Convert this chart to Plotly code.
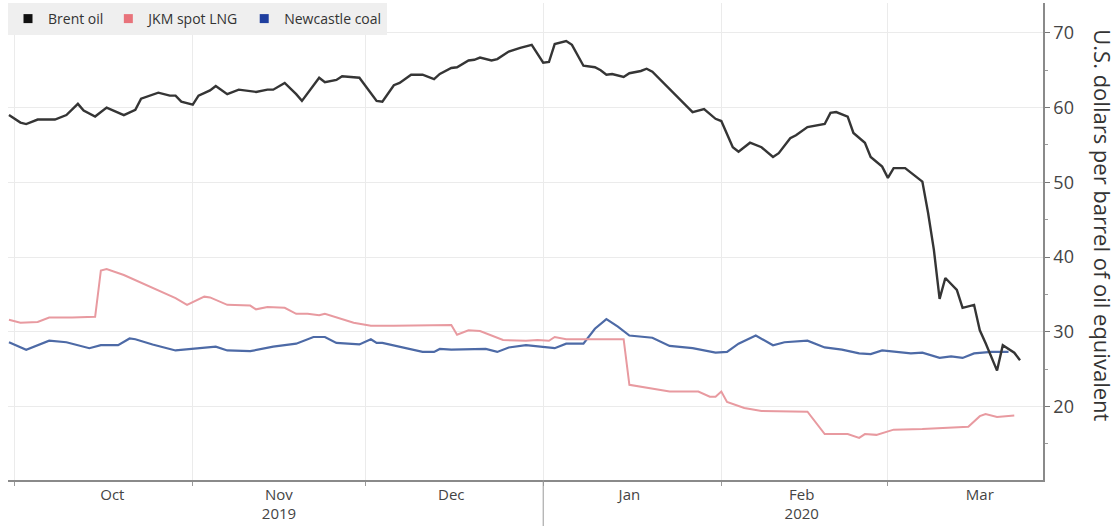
import plotly.graph_objects as go

brent_dates = ["2019-09-30","2019-10-02","2019-10-03","2019-10-05","2019-10-08","2019-10-10","2019-10-12","2019-10-13",
    "2019-10-15","2019-10-17","2019-10-20","2019-10-22","2019-10-23","2019-10-26","2019-10-28","2019-10-29","2019-10-30",
    "2019-11-01","2019-11-02","2019-11-04","2019-11-05","2019-11-07","2019-11-09","2019-11-11","2019-11-12","2019-11-14",
    "2019-11-15","2019-11-17","2019-11-19","2019-11-20","2019-11-23","2019-11-24","2019-11-26","2019-11-27","2019-11-28",
    "2019-11-30","2019-12-03","2019-12-04","2019-12-06","2019-12-07","2019-12-09","2019-12-11","2019-12-13","2019-12-14",
    "2019-12-16","2019-12-17","2019-12-19","2019-12-20","2019-12-21","2019-12-23","2019-12-24","2019-12-26","2019-12-28",
    "2019-12-30","2020-01-01","2020-01-02","2020-01-03","2020-01-05","2020-01-06","2020-01-08","2020-01-10","2020-01-11",
    "2020-01-12","2020-01-13","2020-01-15","2020-01-16","2020-01-18","2020-01-19","2020-01-20","2020-01-27","2020-01-29",
    "2020-01-31","2020-02-01","2020-02-03","2020-02-04","2020-02-06","2020-02-08","2020-02-10","2020-02-11","2020-02-13",
    "2020-02-14","2020-02-16","2020-02-19","2020-02-20","2020-02-21","2020-02-23","2020-02-24","2020-02-26","2020-02-27",
    "2020-02-29","2020-03-01","2020-03-02","2020-03-04","2020-03-05","2020-03-07","2020-03-08","2020-03-09","2020-03-10",
    "2020-03-11","2020-03-13","2020-03-14","2020-03-16","2020-03-17","2020-03-18","2020-03-20","2020-03-21","2020-03-23",
    "2020-03-24"]
brent_values = [59.0,58.0,57.8,58.4,58.4,59.0,60.5,59.6,
    58.8,60.0,59.0,59.7,61.2,62.0,61.6,61.6,60.8,
    60.4,61.6,62.3,62.9,61.8,62.4,62.2,62.1,62.4,
    62.4,63.3,61.8,60.9,64.0,63.4,63.7,64.2,64.1,
    64.0,60.9,60.8,63.0,63.3,64.4,64.4,63.8,64.5,
    65.3,65.4,66.3,66.4,66.7,66.3,66.5,67.5,68.0,
    68.4,66.0,66.1,68.5,68.9,68.4,65.6,65.4,65.0,
    64.4,64.5,64.1,64.6,64.9,65.2,64.8,59.4,59.8,
    58.5,58.2,54.7,54.1,55.3,54.7,53.4,53.9,55.9,
    56.3,57.4,57.8,59.3,59.4,58.8,56.6,55.3,53.4,
    52.1,50.6,51.9,51.9,51.3,50.1,45.9,41.0,34.4,
    37.2,35.6,33.2,33.6,30.2,28.5,24.8,28.2,27.2,
    26.2]

jkm_dates = ["2019-09-30","2019-10-02","2019-10-05","2019-10-07","2019-10-11","2019-10-15","2019-10-16","2019-10-17",
    "2019-10-20","2019-10-24","2019-10-28","2019-10-29","2019-10-31","2019-11-03","2019-11-04","2019-11-07","2019-11-11",
    "2019-11-12","2019-11-14","2019-11-17","2019-11-19","2019-11-21","2019-11-23","2019-11-24","2019-11-29","2019-12-02",
    "2019-12-06","2019-12-10","2019-12-16","2019-12-17","2019-12-19","2019-12-21","2019-12-25","2019-12-29","2019-12-31",
    "2020-01-02","2020-01-03","2020-01-05","2020-01-09","2020-01-15","2020-01-16","2020-01-19","2020-01-23","2020-01-28",
    "2020-01-30","2020-01-31","2020-02-01","2020-02-02","2020-02-05","2020-02-08","2020-02-12","2020-02-16","2020-02-19",
    "2020-02-23","2020-02-25","2020-02-26","2020-02-28","2020-03-02","2020-03-07","2020-03-11","2020-03-15","2020-03-17",
    "2020-03-18","2020-03-20","2020-03-23"]
jkm_values = [31.6,31.2,31.3,31.9,31.9,32.0,38.2,38.4,
    37.6,36.2,34.8,34.5,33.6,34.7,34.6,33.6,33.5,
    33.0,33.3,33.2,32.4,32.4,32.2,32.4,31.2,30.8,
    30.8,30.8,30.9,29.6,30.2,30.1,28.9,28.8,28.9,
    28.8,29.3,29.0,29.0,29.0,22.9,22.5,22.0,22.0,
    21.3,21.3,22.0,20.6,19.8,19.4,19.4,19.3,16.3,
    16.3,15.8,16.3,16.2,16.9,17.0,17.2,17.3,18.7,
    19.0,18.6,18.8]

coal_dates = ["2019-09-30","2019-10-03","2019-10-07","2019-10-10","2019-10-14","2019-10-16","2019-10-19","2019-10-21",
    "2019-10-22","2019-10-25","2019-10-29","2019-11-03","2019-11-05","2019-11-07","2019-11-11","2019-11-15","2019-11-19",
    "2019-11-22","2019-11-24","2019-11-26","2019-11-30","2019-12-02","2019-12-03","2019-12-04","2019-12-11","2019-12-13",
    "2019-12-14","2019-12-16","2019-12-22","2019-12-24","2019-12-26","2019-12-29","2019-12-31","2020-01-03","2020-01-05",
    "2020-01-08","2020-01-10","2020-01-12","2020-01-14","2020-01-16","2020-01-20","2020-01-23","2020-01-27","2020-01-31",
    "2020-02-02","2020-02-04","2020-02-07","2020-02-10","2020-02-12","2020-02-16","2020-02-19","2020-02-22","2020-02-25",
    "2020-02-27","2020-02-29","2020-03-03","2020-03-05","2020-03-07","2020-03-10","2020-03-12","2020-03-14","2020-03-16",
    "2020-03-19","2020-03-22"]
coal_values = [28.6,27.6,28.8,28.6,27.8,28.2,28.2,29.1,
    29.0,28.3,27.5,27.8,28.0,27.5,27.4,28.0,28.4,
    29.3,29.3,28.5,28.3,29.0,28.5,28.5,27.3,27.3,
    27.7,27.6,27.7,27.3,27.9,28.2,28.0,27.8,28.4,
    28.4,30.4,31.7,30.7,29.5,29.2,28.1,27.8,27.2,
    27.3,28.4,29.5,28.2,28.6,28.8,27.9,27.6,27.1,
    27.0,27.5,27.2,27.1,27.2,26.5,26.7,26.5,27.1,
    27.3,27.3]

series_names = ["Brent oil", "JKM spot LNG", "Newcastle coal"]
line_colors = ["#353535", "#e89aa0", "#4d6aa6"]
legend_colors = ["#111111", "#e8737b", "#1f3f9f"]

month_label_dates = ["2019-10-18", "2019-11-16", "2019-12-16", "2020-01-16", "2020-02-15", "2020-03-17"]
month_labels = ["Oct", "Nov<br>2019", "Dec", "Jan", "Feb<br>2020", "Mar"]

y_title = "U.S. dollars per barrel of oil equivalent"

fig = go.Figure()
data = [(brent_dates, brent_values), (jkm_dates, jkm_values), (coal_dates, coal_values)]
widths = [2.4, 2.0, 2.2]
# draw coal first, then LNG, then Brent on top
for i in [2, 1, 0]:
    d, v = data[i]
    fig.add_trace(go.Scatter(x=d, y=v, mode="lines", name=series_names[i],
                             line=dict(color=line_colors[i], width=widths[i]),
                             showlegend=False))
for i in range(3):
    fig.add_trace(go.Scatter(x=[None], y=[None], mode="markers", name=series_names[i],
                             marker=dict(symbol="square", size=9, color=legend_colors[i]),
                             showlegend=True))

fig.update_layout(
    width=1120, height=526,
    margin=dict(l=8, r=77, t=3, b=46),
    paper_bgcolor="white", plot_bgcolor="white",
    font=dict(family="Open Sans", color="#444444"),
    showlegend=True,
    legend=dict(orientation="h", x=0, y=1, xanchor="left", yanchor="top",
                bgcolor="#efefef", font=dict(size=14, color="#333333"),
                itemwidth=30, tracegroupgap=0),
    xaxis=dict(
        type="date",
        range=["2019-09-29 20:00", "2020-03-28 00:00"],
        tickmode="array", tickvals=month_label_dates, ticktext=month_labels,
        ticks="", showgrid=False,
        tickfont=dict(size=15, color="#444444"),
        showline=True, linecolor="#8a8a8a", linewidth=1.5,
        zeroline=False,
        minor=dict(tick0="2019-10-01", dtick="M1", showgrid=True, gridcolor="#ebebeb",
                   gridwidth=1, ticks="outside", ticklen=4, tickcolor="#9a9a9a"),
    ),
    yaxis=dict(
        side="right",
        range=[10.16, 74.0],
        tick0=0, dtick=10,
        showgrid=True, gridcolor="#ebebeb", gridwidth=1,
        ticks="outside", ticklen=5, tickcolor="#777777",
        tickfont=dict(size=18, color="#444444"),
        showline=True, linecolor="#8a8a8a", linewidth=1.5,
        zeroline=False,
        minor=dict(dtick=5, tick0=0, ticks="outside", ticklen=3, tickcolor="#999999", showgrid=False),
    ),
    annotations=[dict(text=y_title, textangle=90, xref="paper", yref="paper",
                      x=1.058, y=0.534, xanchor="center", yanchor="middle", showarrow=False,
                      font=dict(size=22, color="#333333"))],
    shapes=[dict(type="line", xref="x", yref="paper", x0="2020-01-01", x1="2020-01-01",
                 y0=0, y1=-0.1, line=dict(color="#9a9a9a", width=1))],
)

fig.write_html("out.html")
